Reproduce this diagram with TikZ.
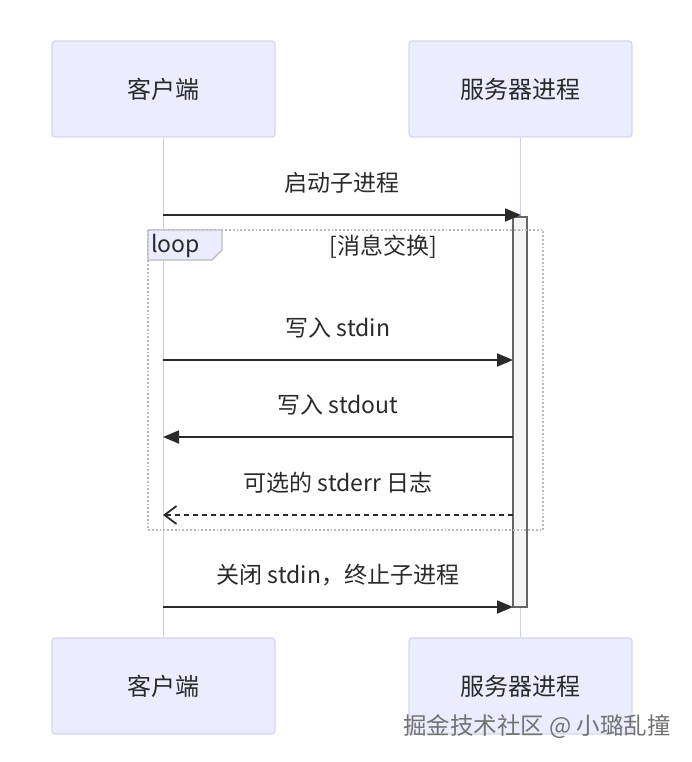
\documentclass[tikz,border=0pt]{standalone}
\usepackage{fontspec}
\setmainfont{Noto Sans CJK SC}
\usetikzlibrary{arrows.meta}
\definecolor{actfill}{HTML}{ECECFF}
\definecolor{actdraw}{HTML}{D6D6EC}
\definecolor{txt}{HTML}{2A2A2A}
\definecolor{lifeline}{HTML}{CFCFE0}
\definecolor{loopdraw}{HTML}{BBBBBB}
\tikzset{
  actor/.style={draw=actdraw, fill=actfill, line width=1.2pt, rounded corners=3pt,
    minimum width=223pt, minimum height=96pt, text=txt, font=\fontsize{24}{28}\selectfont, inner sep=0pt},
  msgtext/.style={text=txt, font=\fontsize{23}{27}\selectfont, inner sep=0pt},
  msg/.style={draw=txt, line width=1.8pt, -{Triangle[length=16pt,width=13pt]}},
  dmsg/.style={draw=txt, line width=1.8pt, dash pattern=on 5pt off 4pt, -{Straight Barb[length=12pt,width=18pt,line width=1.8pt]}},
  lline/.style={draw=lifeline, line width=1.5pt},
}
\begin{document}
\begin{tikzpicture}[x=1pt,y=-1pt]
\useasboundingbox[fill=white] (0,0) rectangle (692,762);
% actors and lifelines
\node[actor] (ct) at (163.5,89) {客户端};
\node[actor] (st) at (520.5,89) {服务器进程};
\node[actor] (cb) at (163.5,686) {客户端};
\node[actor] (sb) at (520.5,686) {服务器进程};
\draw[lline] (ct.south) -- (cb.north);
\draw[lline] (st.south) -- (sb.north);
% activation
\node[draw=black!60, fill=black!4, line width=1.2pt, minimum width=14pt, minimum height=390pt, inner sep=0pt] (act) at (520,412) {};
% loop frame
\draw[loopdraw, line width=1.8pt, dotted] (148,230) rectangle (543,530);
\draw[loopdraw, fill=actfill, line width=1.2pt] (148,230) -- (222,230) -- (222,250) -- (212,260) -- (148,260) -- cycle;
\node[text=txt, font=\fontsize{23}{27}\selectfont, inner sep=0pt, anchor=west] (looplbl) at (151,246) {loop};
\node[text=txt, font=\fontsize{23}{27}\selectfont, inner sep=0pt] (loopcond) at (383,247) {[消息交换]};
% message coordinates
\coordinate (c1) at (163,215); \coordinate (s1) at (521,215);
\coordinate (c2) at (163,360); \coordinate (s2) at (513,360);
\coordinate (c3) at (163,437); \coordinate (s3) at (513,437);
\coordinate (c4) at (163,515); \coordinate (s4) at (513,515);
\coordinate (c5) at (163,607); \coordinate (s5) at (513,607);
% messages
\draw[msg] (c1) -- (s1);
\node[msgtext] (m1) at (342,183) {启动子进程};
\draw[msg] (c2) -- (s2);
\node[msgtext] (m2) at (338,328) {写入 stdin};
\draw[msg] (s3) -- (c3);
\node[msgtext] (m3) at (338,405) {写入 stdout};
\draw[dmsg] (s4) -- (c4);
\node[msgtext] (m4) at (338,483) {可选的 stderr 日志};
\draw[msg] (c5) -- (s5);
\node[msgtext] (m5) at (338,575) {关闭 stdin，终止子进程};
% watermark
\node[text=black!55, font=\fontsize{23.5}{27}\selectfont, inner sep=0pt] (wm) at (537,727) {掘金技术社区 @ 小璐乱撞};
\end{tikzpicture}
\end{document}
